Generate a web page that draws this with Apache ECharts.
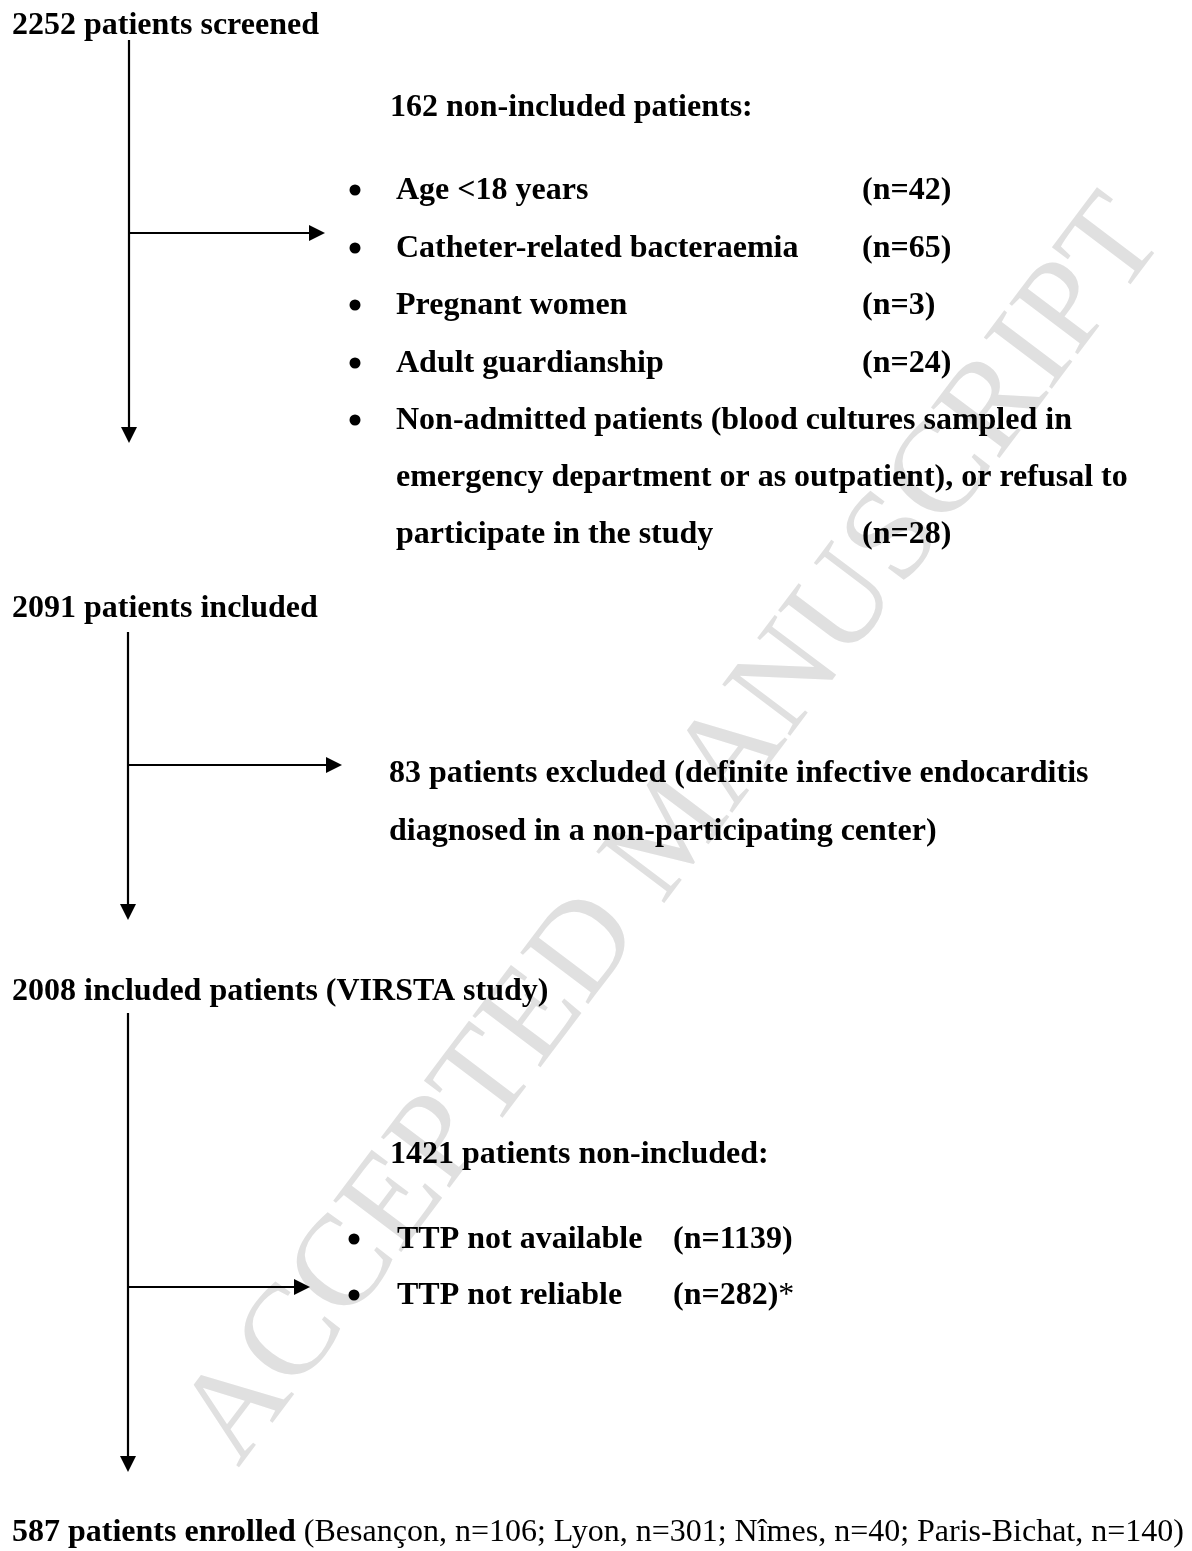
<!DOCTYPE html>
<html>
<head>
<meta charset="utf-8">
<script src="https://cdn.jsdelivr.net/npm/echarts@6/dist/echarts.min.js"></script>
<style>
  html, body { margin: 0; padding: 0; background: #ffffff; }
  #chart { width: 1192px; height: 1551px; }
</style>
</head>
<body>
<div id="chart"></div>
<script>
// ---------------- DATA ----------------
const screenedCount = 2252;
const nonIncluded1Count = 162;
const nonIncluded1Reasons = ['Age <18 years', 'Catheter-related bacteraemia', 'Pregnant women', 'Adult guardianship',
  'Non-admitted patients (blood cultures sampled in emergency department or as outpatient), or refusal to participate in the study'];
const nonIncluded1Lines = [['Age <18 years'], ['Catheter-related bacteraemia'], ['Pregnant women'], ['Adult guardianship'],
  ['Non-admitted patients (blood cultures sampled in', 'emergency department or as outpatient), or refusal to', 'participate in the study']];
const nonIncluded1Counts = [42, 65, 3, 24, 28];
const includedCount = 2091;
const excludedCount = 83;
const excludedLines = ['patients excluded (definite infective endocarditis', 'diagnosed in a non-participating center)'];
const virstaCount = 2008;
const nonIncluded2Count = 1421;
const nonIncluded2Reasons = ['TTP not available', 'TTP not reliable'];
const nonIncluded2Counts = [1139, 282];
const nonIncluded2Marks = ['', '*'];
const enrolledCount = 587;
const centres = ['Besançon', 'Lyon', 'Nîmes', 'Paris-Bichat'];
const centreCounts = [106, 301, 40, 140];
const watermarkText = 'ACCEPTED MANUSCRIPT';

// ---------------- LAYOUT ----------------
const FAM = '"Liberation Serif", "Times New Roman", serif';
const FB = 'bold 32px ' + FAM;
const FN = '32px ' + FAM;
const BASE_OFF = 7; // baseline - middle
const layout = {
  leftX: 12,
  h1: 33, h2: 616, h3: 999, h4: 1540,
  sub1: { x: 390, y: 115 },
  list1: { bulletX: 355, textX: 396, nX: 862, baselines: [198, 256, 313, 371, 428, 485, 542] },
  excl: { x: 389, baselines: [781, 839] },
  sub2: { x: 390, y: 1162 },
  list2: { bulletX: 354, textX: 397, nX: 673, baselines: [1247, 1303] },
  vLines: [{ x: 129, y0: 40, y1: 443 }, { x: 128, y0: 632, y1: 920 }, { x: 128, y0: 1013, y1: 1472 }],
  hArrows: [{ y: 233, x0: 129, x1: 325 }, { y: 765, x0: 128, x1: 342 }, { y: 1287, x0: 128, x1: 310 }],
  head: 16, headHalf: 8, lw: 2.2,
  wm: { x: 675, y: 832, angle: 53, size: 130, color: '#e0e0e0' }
};

const els = [];
function txt(x, baseline, text, font, extra) {
  els.push(Object.assign({
    type: 'text', x: x, y: baseline - BASE_OFF, z: 10,
    style: { text: text, font: font, fill: '#000', align: 'left', textAlign: 'left', verticalAlign: 'middle', textVerticalAlign: 'middle' }
  }, extra || {}));
}
function bullet(x, baseline) {
  els.push({ type: 'circle', z: 10, shape: { cx: x, cy: baseline - 8, r: 5.5 }, style: { fill: '#000' } });
}

// watermark
els.push({
  type: 'text', x: layout.wm.x, y: layout.wm.y, rotation: layout.wm.angle * Math.PI / 180, z: 1,
  style: { text: watermarkText, font: layout.wm.size + 'px ' + FAM, fill: layout.wm.color,
    align: 'center', textAlign: 'center', verticalAlign: 'middle', textVerticalAlign: 'middle' }
});

// arrows
layout.vLines.forEach(function (v) {
  els.push({ type: 'line', z: 5, shape: { x1: v.x, y1: v.y0, x2: v.x, y2: v.y1 - layout.head + 2 }, style: { stroke: '#000', lineWidth: layout.lw } });
  els.push({ type: 'polygon', z: 5, shape: { points: [[v.x, v.y1], [v.x - layout.headHalf, v.y1 - layout.head], [v.x + layout.headHalf, v.y1 - layout.head]] }, style: { fill: '#000' } });
});
layout.hArrows.forEach(function (h) {
  els.push({ type: 'line', z: 5, shape: { x1: h.x0, y1: h.y, x2: h.x1 - layout.head + 2, y2: h.y }, style: { stroke: '#000', lineWidth: layout.lw } });
  els.push({ type: 'polygon', z: 5, shape: { points: [[h.x1, h.y], [h.x1 - layout.head, h.y - layout.headHalf], [h.x1 - layout.head, h.y + layout.headHalf]] }, style: { fill: '#000' } });
});

// headings
txt(layout.leftX, layout.h1, screenedCount + ' patients screened', FB);
txt(layout.sub1.x, layout.sub1.y, nonIncluded1Count + ' non-included patients:', FB);
let li = 0;
nonIncluded1Lines.forEach(function (lines, i) {
  bullet(layout.list1.bulletX, layout.list1.baselines[li]);
  lines.forEach(function (ln, k) {
    txt(layout.list1.textX, layout.list1.baselines[li], ln, FB);
    if (k === lines.length - 1) txt(layout.list1.nX, layout.list1.baselines[li], '(n=' + nonIncluded1Counts[i] + ')', FB);
    li++;
  });
});
txt(layout.leftX, layout.h2, includedCount + ' patients included', FB);
txt(layout.excl.x, layout.excl.baselines[0], excludedCount + ' ' + excludedLines[0], FB);
txt(layout.excl.x, layout.excl.baselines[1], excludedLines[1], FB);
txt(layout.leftX, layout.h3, virstaCount + ' included patients (VIRSTA study)', FB);
txt(layout.sub2.x, layout.sub2.y, nonIncluded2Count + ' patients non-included:', FB);
nonIncluded2Reasons.forEach(function (r, i) {
  const b = layout.list2.baselines[i];
  bullet(layout.list2.bulletX, b);
  txt(layout.list2.textX, b, r, FB);
  els.push({
    type: 'text', x: layout.list2.nX, y: b - BASE_OFF, z: 10,
    style: {
      text: '{b|(n=' + nonIncluded2Counts[i] + ')}' + (nonIncluded2Marks[i] ? '{n|' + nonIncluded2Marks[i] + '}' : ''),
      align: 'left', textAlign: 'left', verticalAlign: 'middle', textVerticalAlign: 'middle',
      rich: { b: { font: FB, fill: '#000', color: '#000' }, n: { font: FN, fill: '#000', color: '#000' } }
    }
  });
});
const centreText = centres.map(function (c, i) { return c + ', n=' + centreCounts[i]; }).join('; ');
els.push({
  type: 'text', x: layout.leftX, y: layout.h4 - BASE_OFF, z: 10,
  style: {
    text: '{b|' + enrolledCount + ' patients enrolled}{n| (' + centreText + ')}',
    align: 'left', textAlign: 'left', verticalAlign: 'middle', textVerticalAlign: 'middle',
    rich: { b: { font: FB, fill: '#000', color: '#000' }, n: { font: FN, fill: '#000', color: '#000' } }
  }
});

const chart = echarts.init(document.getElementById('chart'), null, { renderer: 'canvas' });
chart.setOption({
  backgroundColor: '#ffffff',
  animation: false,
  graphic: { elements: els }
});
</script>
</body>
</html>
